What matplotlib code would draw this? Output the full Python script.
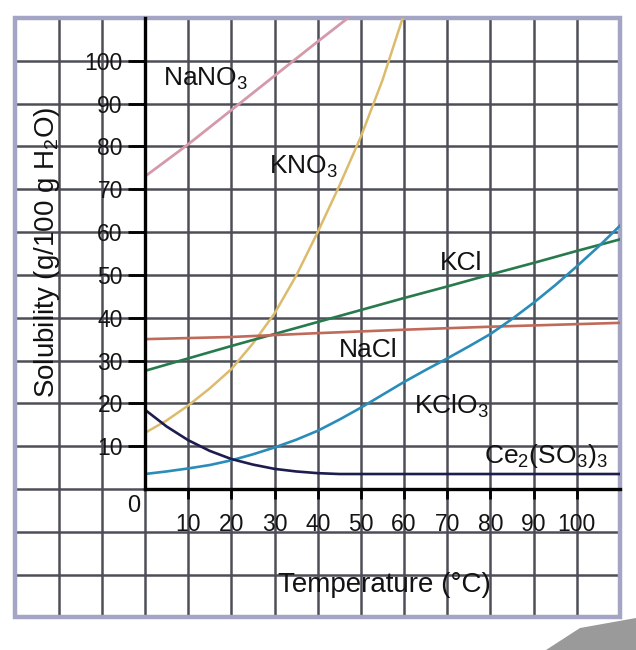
import matplotlib
matplotlib.use('Agg')
import matplotlib.pyplot as plt
from matplotlib.patches import Rectangle, Polygon

# ---------------- data ----------------
t_nano3 = [0, 10, 20, 30, 40, 47]
s_nano3 = [73.0, 80.5, 88.5, 96.5, 104.5, 110.0]

t_kno3 = [0, 5, 10, 15, 20, 25, 30, 35, 40, 45, 50, 55, 60]
s_kno3 = [13.1, 16.0, 19.5, 23.5, 28.0, 34.0, 41.0, 49.8, 60.0, 70.8, 82.3, 95.5, 111.0]

t_kcl = [0, 10, 20, 30, 40, 50, 60, 70, 80, 90, 100, 110]
s_kcl = [27.6, 30.5, 33.4, 36.2, 39.0, 41.8, 44.6, 47.3, 50.1, 52.8, 55.6, 58.3]

t_nacl = [0, 20, 40, 60, 80, 100, 110]
s_nacl = [35.0, 35.5, 36.4, 37.2, 37.9, 38.5, 38.8]

t_kclo3 = [0, 5, 10, 15, 20, 25, 30, 35, 40, 45, 50, 55, 60, 65, 70, 75, 80,
           85, 90, 95, 100, 105, 110]
s_kclo3 = [3.5, 4.1, 4.8, 5.6, 6.7, 8.1, 9.7, 11.5, 13.6, 16.2, 19.0, 22.0,
           25.0, 27.8, 30.5, 33.3, 36.2, 39.7, 43.5, 47.6, 52.0, 56.6, 61.5]

t_ce = [0, 5, 10, 15, 20, 25, 30, 35, 40, 45, 50, 60, 70, 80, 90, 100, 110]
s_ce = [18.5, 14.6, 11.4, 8.9, 7.0, 5.7, 4.7, 4.1, 3.7, 3.5, 3.5, 3.5, 3.5, 3.5, 3.5, 3.5, 3.5]

x_ticks = [10, 20, 30, 40, 50, 60, 70, 80, 90, 100]
y_ticks = [10, 20, 30, 40, 50, 60, 70, 80, 90, 100]
grid_vals = list(range(-30, 111, 10))

# ---------------- figure ----------------
W, H = 636, 650
plt.rcParams['font.family'] = ['Liberation Sans', 'DejaVu Sans']
fig = plt.figure(figsize=(W / 100, H / 100), dpi=100)
fig.patch.set_facecolor('white')

ax = fig.add_axes([145 / W, 1 - 489 / H, 475 / W, 471 / H])
ax.set_xlim(0, 110)
ax.set_ylim(0, 110)
ax.patch.set_alpha(0)

grid_col = '#4e4e58'
for v in grid_vals:
    ax.plot([v, v], [-30, 110], color=grid_col, lw=1.8, clip_on=False, zorder=1)
    ax.plot([-30, 110], [v, v], color=grid_col, lw=1.8, clip_on=False, zorder=1)
ax.add_patch(Rectangle((-30, -30), 140, 140, fill=False, ec='#a4a4c4', lw=3.2,
                       clip_on=False, zorder=2))

# curves
ax.plot(t_nano3, s_nano3, color='#d49aaa', lw=2.0, zorder=3)
ax.plot(t_kno3, s_kno3, color='#dcbc6c', lw=1.8, zorder=3)
ax.plot(t_kcl, s_kcl, color='#267a4c', lw=1.9, zorder=3)
ax.plot(t_nacl, s_nacl, color='#c06a5a', lw=1.9, zorder=3)
ax.plot(t_kclo3, s_kclo3, color='#2a8cb8', lw=1.9, zorder=3)
ax.plot(t_ce, s_ce, color='#1c1c4e', lw=1.9, zorder=3)

# spines
for side in ('top', 'right'):
    ax.spines[side].set_visible(False)
for side in ('left', 'bottom'):
    ax.spines[side].set_linewidth(2.4)
    ax.spines[side].set_color('black')
    ax.spines[side].set_zorder(5)

tick_font = ['Liberation Sans Narrow', 'Liberation Sans', 'DejaVu Sans']
ax.set_xticks(x_ticks)
ax.set_xticklabels([str(v) for v in x_ticks], family=tick_font, fontsize=16.5)
ax.set_yticks(y_ticks)
ax.set_yticklabels([str(v) for v in y_ticks], family=tick_font, fontsize=16.5)
ax.tick_params(axis='x', direction='out', length=7, width=2, pad=10, colors='black')
ax.tick_params(axis='y', direction='out', length=12, width=2, pad=4, colors='black')
for lbl in ax.get_xticklabels() + ax.get_yticklabels():
    lbl.set_color('#141414')

def ftext(px, py, s, **kw):
    fig.text(px / W, 1 - py / H, s, **kw)

ftext(134, 506, '0', ha='center', va='center', fontsize=17, family=tick_font,
      color='#141414')

# curve labels
lab = dict(fontsize=19, color='#121212', va='baseline', ha='left')
ftext(163, 85, r'NaNO$_\mathregular{3}$', **lab)
ftext(269, 174, r'KNO$_\mathregular{3}$', **lab)
ftext(440, 270, 'KCl', **lab)
ftext(339, 357, 'NaCl', **lab)
ftext(414, 414, r'KClO$_\mathregular{3}$', **lab)
ftext(484, 463, r'Ce$_\mathregular{2}$(SO$_\mathregular{3}$)$_\mathregular{3}$', **lab)

# axis titles
ftext(47, 252, r'Solubility (g/100 g H$_\mathregular{2}$O)', rotation=90,
      ha='center', va='center', fontsize=20, color='#121212')
ftext(384, 585, 'Temperature (°C)', ha='center', va='center', fontsize=20,
      color='#121212')

# grey corner wedge of the scan
fig.patches.append(Polygon([(546 / W, 0), (580 / W, 1 - 628 / H), (636 / W, 1 - 618 / H),
                            (1, 0)], closed=True, transform=fig.transFigure,
                           fc='#9a9a9a', ec='none'))

fig.savefig('out.png', dpi=100)
